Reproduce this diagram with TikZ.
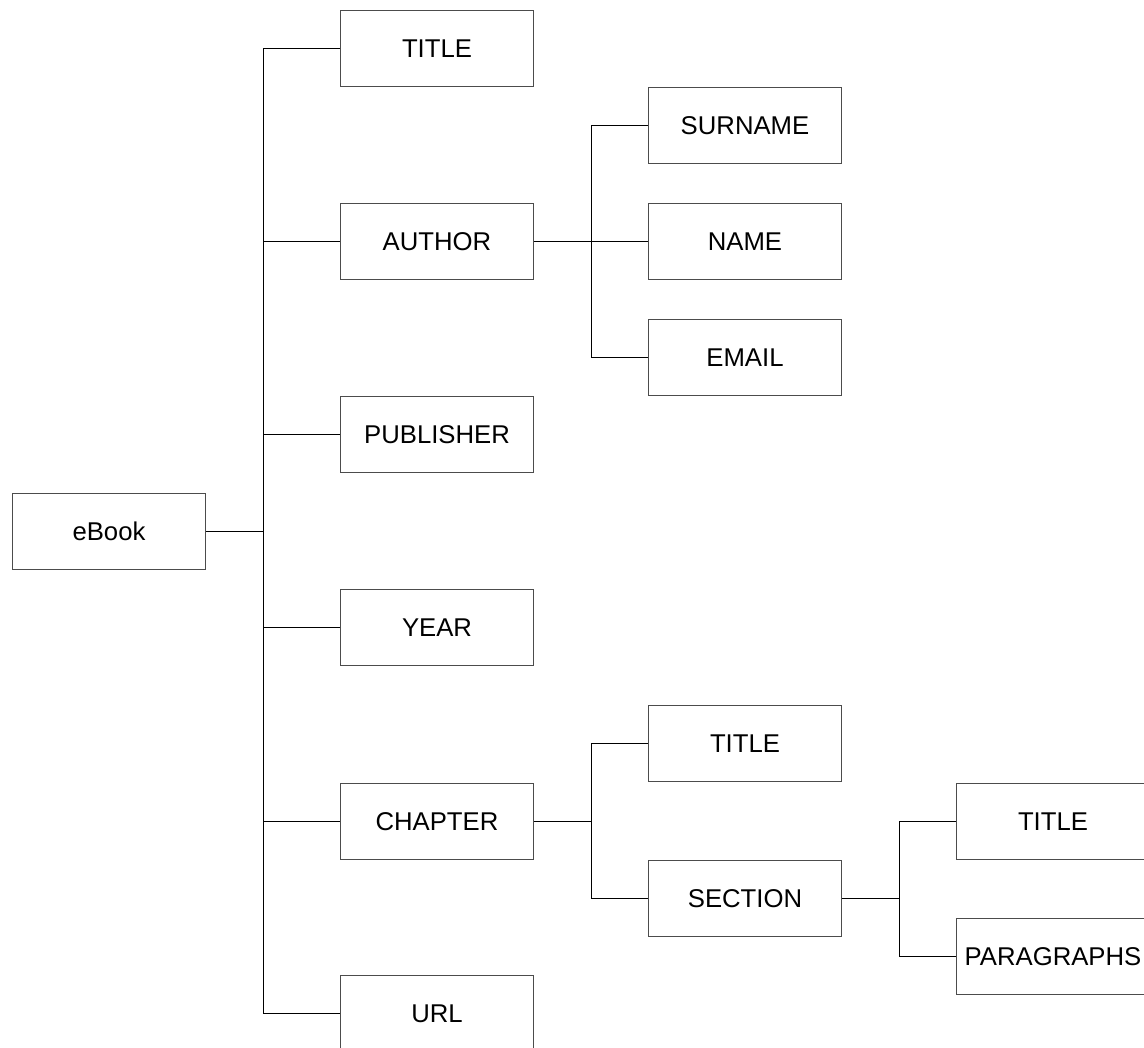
\documentclass[tikz,border=0pt]{standalone}
\usepackage{fontspec}
\setmainfont{Liberation Sans}
\begin{document}
\begin{tikzpicture}[x=1pt,y=-1pt,
  box/.style={draw=black!70,line width=1pt,fill=white,minimum width=193pt,minimum height=76pt,inner sep=0pt,
    font=\fontsize{25.7}{30}\selectfont},
  link/.style={draw=black,line width=1pt}]
\useasboundingbox (0,0) rectangle (1144,1048);
\clip (0,0) rectangle (1144,1048);
% root
\node[box] (ebook) at (109,531.5) {eBook};
% first level
\node[box] (title) at (437,48.5) {TITLE};
\node[box] (author) at (437,241.5) {AUTHOR};
\node[box] (publisher) at (437,434.5) {PUBLISHER};
\node[box] (year) at (437,627.5) {YEAR};
\node[box] (chapter) at (437,821.5) {CHAPTER};
\node[box] (url) at (437,1013.5) {URL};
% author details
\node[box] (surname) at (745,125.5) {SURNAME};
\node[box] (name) at (745,241.5) {NAME};
\node[box] (email) at (745,357.5) {EMAIL};
% chapter parts
\node[box] (ctitle) at (745,743.5) {TITLE};
\node[box] (section) at (745,898.5) {SECTION};
% section parts
\node[box] (stitle) at (1053,821.5) {TITLE};
\node[box] (paragraphs) at (1053,956.5) {PARAGRAPHS};
% junction points of the tree branches
\coordinate (j0) at (263.5,531.5);
\coordinate (j1) at (591.5,241.5);
\coordinate (j2) at (591.5,821.5);
\coordinate (j3) at (899.5,898.5);
\draw[link] (ebook.east) -- (j0);
\foreach \n in {title,author,publisher,year,chapter,url} \draw[link] (j0) |- (\n.west);
\draw[link] (author.east) -- (j1);
\foreach \n in {surname,name,email} \draw[link] (j1) |- (\n.west);
\draw[link] (chapter.east) -- (j2);
\foreach \n in {ctitle,section} \draw[link] (j2) |- (\n.west);
\draw[link] (section.east) -- (j3);
\foreach \n in {stitle,paragraphs} \draw[link] (j3) |- (\n.west);
\end{tikzpicture}
\end{document}
